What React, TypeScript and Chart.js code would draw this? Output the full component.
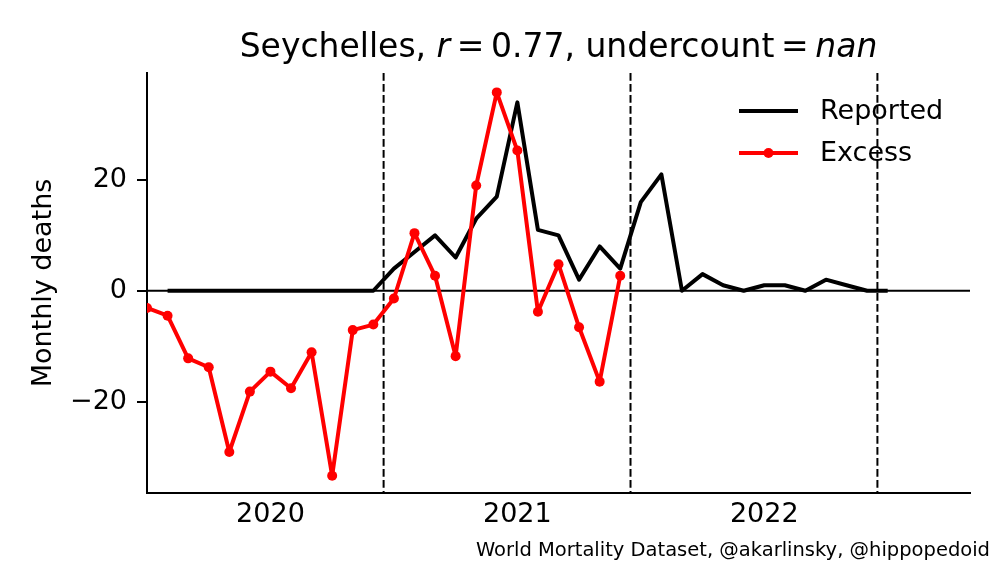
import { useEffect, useRef } from "react"
import { Chart, registerables } from "chart.js"

Chart.register(...registerables)

// months on the x axis, July 2019 .. November 2022
const months = [
  "2019-07", "2019-08", "2019-09", "2019-10", "2019-11", "2019-12",
  "2020-01", "2020-02", "2020-03", "2020-04", "2020-05", "2020-06",
  "2020-07", "2020-08", "2020-09", "2020-10", "2020-11", "2020-12",
  "2021-01", "2021-02", "2021-03", "2021-04", "2021-05", "2021-06",
  "2021-07", "2021-08", "2021-09", "2021-10", "2021-11", "2021-12",
  "2022-01", "2022-02", "2022-03", "2022-04", "2022-05", "2022-06",
  "2022-07", "2022-08", "2022-09", "2022-10", "2022-11",
]

const reportedStart = "2019-08"
const reported = [
  0, 0, 0, 0, 0, 0, 0, 0, 0, 0, 0,
  4, 7, 10, 6, 13, 17, 34, 11, 10, 2, 8, 4, 16, 21,
  0, 3, 1, 0, 1, 1, 0, 2, 1, 0, 0,
]

const excessStart = "2019-07"
const excess = [
  -3.1, -4.5, -12.2, -13.8, -29.1, -18.2, -14.6, -17.6, -11.1, -33.4, -7.1, -6.1,
  -1.4, 10.4, 2.7, -11.8, 19.0, 35.8, 25.3, -3.8, 4.8, -6.6, -16.4, 2.7,
]

const yearTicks = ["2020-01", "2021-01", "2022-01"]
const yearLabels = ["2020", "2021", "2022"]
// dashed separators sit halfway between June and July
const waveBreaks = ["2020-06", "2021-06", "2022-06"]
const yTicks = [-20, 0, 20]
const yRange = [-36.5, 39.3]

const FONT = "'DejaVu Sans', sans-serif"

function toPoints(start: string, values: number[]) {
  const offset = months.indexOf(start)
  return values.map((v, i) => ({ x: offset + i, y: v }))
}

const overlay = {
  id: "overlay",
  beforeDatasetsDraw(chart: any) {
    const { ctx, chartArea, scales } = chart
    ctx.save()
    ctx.strokeStyle = "#000"
    ctx.lineWidth = 2
    const y0 = scales.y.getPixelForValue(0)
    ctx.beginPath()
    ctx.moveTo(chartArea.left, y0)
    ctx.lineTo(chartArea.right, y0)
    ctx.stroke()

    ctx.setLineDash([7.7, 3.3])
    waveBreaks.forEach((m) => {
      const px = scales.x.getPixelForValue(months.indexOf(m) + 0.5)
      ctx.beginPath()
      ctx.moveTo(px, chartArea.top)
      ctx.lineTo(px, chartArea.bottom)
      ctx.stroke()
    })
    ctx.restore()
  },
  afterDraw(chart: any) {
    const { ctx, chartArea } = chart
    ctx.save()
    ctx.fillStyle = "#000"

    // title with italic math parts
    const parts: [string, boolean][] = [
      ["Seychelles, ", false],
      ["r", true],
      ["\u2009=\u20090.77, undercount", false],
      ["\u2009=\u2009", false],
      ["nan", true],
    ]
    const fontFor = (it: boolean) => `${it ? "italic " : ""}33px ${FONT}`
    let total = 0
    parts.forEach(([t, it]) => {
      ctx.font = fontFor(it)
      total += ctx.measureText(t).width
    })
    let tx = (chartArea.left + chartArea.right) / 2 - total / 2
    ctx.textBaseline = "alphabetic"
    ctx.textAlign = "left"
    parts.forEach(([t, it]) => {
      ctx.font = fontFor(it)
      ctx.fillText(t, tx, 57)
      tx += ctx.measureText(t).width
    })

    // legend
    const items = [
      { label: "Reported", color: "#000", marker: false, y: 111 },
      { label: "Excess", color: "#ff0000", marker: true, y: 153 },
    ]
    ctx.font = `27px ${FONT}`
    ctx.textBaseline = "middle"
    items.forEach((it) => {
      ctx.strokeStyle = it.color
      ctx.lineWidth = 4
      ctx.beginPath()
      ctx.moveTo(739, it.y)
      ctx.lineTo(798, it.y)
      ctx.stroke()
      if (it.marker) {
        ctx.fillStyle = it.color
        ctx.beginPath()
        ctx.arc(768.5, it.y, 5, 0, Math.PI * 2)
        ctx.fill()
      }
      ctx.fillStyle = "#000"
      ctx.fillText(it.label, 820, it.y + 1)
    })

    // source note
    ctx.font = `19.5px ${FONT}`
    ctx.textAlign = "right"
    ctx.textBaseline = "alphabetic"
    ctx.fillText("World Mortality Dataset, @akarlinsky, @hippopedoid", 990, 556)
    ctx.restore()
  },
}

export default function App() {
  const canvasRef = useRef<HTMLCanvasElement>(null)
  const chartRef = useRef<Chart | null>(null)

  useEffect(() => {
    if (!canvasRef.current) return
    if (chartRef.current) chartRef.current.destroy()

    chartRef.current = new Chart(canvasRef.current, {
      type: "line",
      data: {
        datasets: [
          {
            label: "Excess",
            data: toPoints(excessStart, excess),
            borderColor: "#ff0000",
            backgroundColor: "#ff0000",
            borderWidth: 4,
            pointRadius: 5,
            pointBorderWidth: 0,
            pointBackgroundColor: "#ff0000",
            tension: 0,
            borderJoinStyle: "round",
            clip: 0,
            order: 0,
          },
          {
            label: "Reported",
            data: toPoints(reportedStart, reported),
            borderColor: "#000",
            backgroundColor: "#000",
            borderWidth: 4,
            pointRadius: 0,
            tension: 0,
            borderJoinStyle: "round",
            clip: 0,
            order: 1,
          },
        ],
      },
      options: {
        responsive: false,
        animation: false,
        events: [],
        layout: { padding: { top: 73, right: 30, left: 0, bottom: 0 } },
        plugins: {
          legend: { display: false },
          tooltip: { enabled: false },
          title: { display: false },
        },
        scales: {
          x: {
            type: "linear",
            min: 0,
            max: months.length - 1,
            grid: { display: false, drawTicks: false },
            border: { display: true, color: "#000", width: 2 },
            afterBuildTicks: (scale: any) => {
              scale.ticks = yearTicks.map((m) => ({ value: months.indexOf(m) }))
            },
            afterFit: (scale: any) => {
              scale.height = 69
            },
            ticks: {
              color: "#000",
              font: { family: FONT, size: 27 },
              padding: 6,
              maxRotation: 0,
              callback: (value: any) => yearLabels[yearTicks.indexOf(months[value as number])] ?? "",
            },
          },
          y: {
            type: "linear",
            min: yRange[0],
            max: yRange[1],
            grid: {
              display: true,
              drawOnChartArea: false,
              drawTicks: true,
              tickLength: 10,
              color: "#000",
              lineWidth: 2,
            },
            border: { display: true, color: "#000", width: 2 },
            afterBuildTicks: (scale: any) => {
              scale.ticks = yTicks.map((v) => ({ value: v }))
            },
            afterFit: (scale: any) => {
              scale.width = 147
            },
            title: {
              display: true,
              text: "Monthly deaths",
              color: "#000",
              font: { family: FONT, size: 27 },
              padding: { top: 28, bottom: 0 },
            },
            ticks: {
              color: "#000",
              font: { family: FONT, size: 27 },
              padding: 10,
              callback: (value: any) => String(value).replace("-", "\u2212"),
            },
          },
        },
      },
      plugins: [overlay],
    })

    return () => {
      if (chartRef.current) {
        chartRef.current.destroy()
        chartRef.current = null
      }
    }
  }, [])

  return (
    <div style={{ position: "absolute", left: 0, top: 0, width: 1000, height: 562, background: "#fff" }}>
      <canvas ref={canvasRef} width={1000} height={562} />
    </div>
  )
}
